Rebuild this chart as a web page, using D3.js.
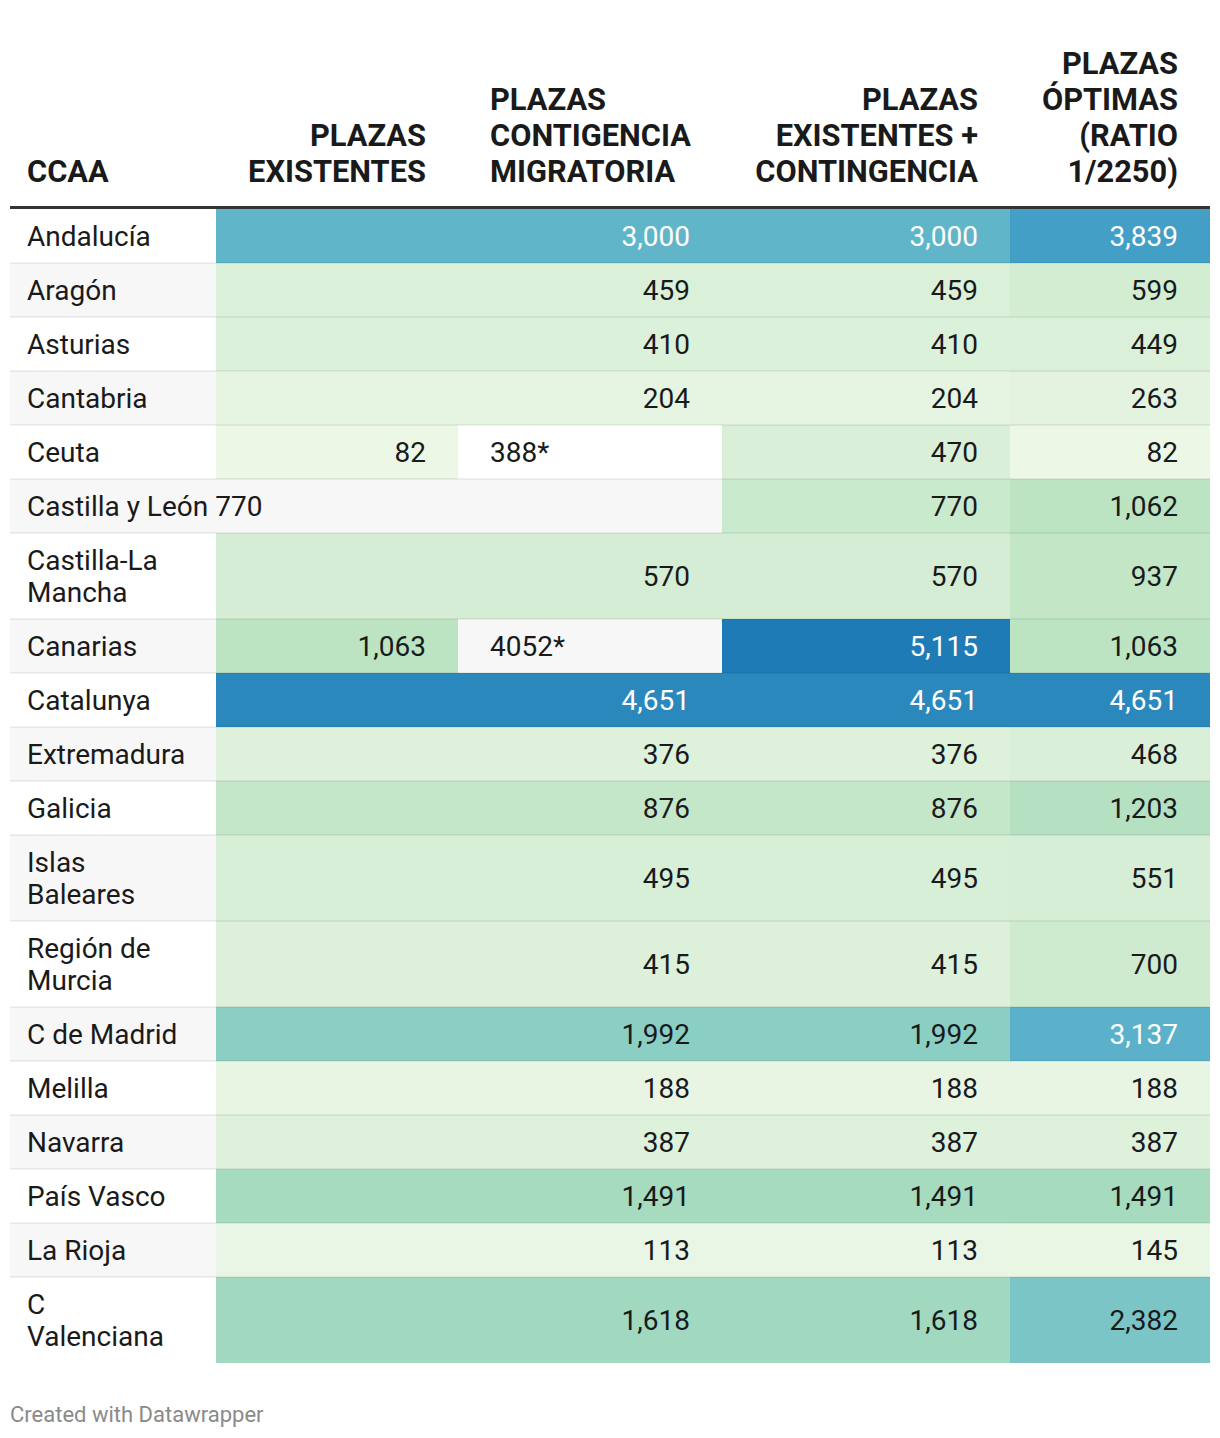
<!DOCTYPE html>
<html>
<head>
<meta charset="utf-8">
<script src="https://cdn.jsdelivr.net/npm/d3@7"></script>
<style>
  html, body { margin: 0; padding: 0; background: #ffffff; }
  svg { display: block; font-family: Roboto, "Noto Sans", sans-serif; }
</style>
</head>
<body>
<div id="chart"></div>
<script>
// ---------------- DATA ----------------
const headers = [
  ["CCAA"],
  ["PLAZAS", "EXISTENTES"],
  ["PLAZAS", "CONTIGENCIA", "MIGRATORIA"],
  ["PLAZAS", "EXISTENTES +", "CONTINGENCIA"],
  ["PLAZAS", "ÓPTIMAS", "(RATIO", "1/2250)"]
];
const ccaa = [
  "Andalucía", "Aragón", "Asturias", "Cantabria", "Ceuta", "Castilla y León",
  "Castilla-La\nMancha", "Canarias", "Catalunya", "Extremadura", "Galicia",
  "Islas\nBaleares", "Región de\nMurcia", "C de Madrid", "Melilla", "Navarra",
  "País Vasco", "La Rioja", "C\nValenciana"
];
const plazasExistentes = [3000, 459, 410, 204, 82, 770, 570, 1063, 4651, 376, 876, 495, 415, 1992, 188, 387, 1491, 113, 1618];
const plazasContingencia = ["", "", "", "", "388*", "", "", "4052*", "", "", "", "", "", "", "", "", "", "", ""];
const existentesMasContingencia = [3000, 459, 410, 204, 470, 770, 570, 5115, 4651, 376, 876, 495, 415, 1992, 188, 387, 1491, 113, 1618];
const plazasOptimas = [3839, 599, 449, 263, 82, 1062, 937, 1063, 4651, 468, 1203, 551, 700, 3137, 188, 387, 1491, 145, 2382];
// how the first cells of each row are laid out in the source table
const rowLayout = ["merged", "merged", "merged", "merged", "split", "name", "merged", "split", "merged",
  "merged", "merged", "merged", "merged", "merged", "merged", "merged", "merged", "merged", "merged"];
const footerText = "Created with Datawrapper";

// ---------------- LAYOUT / STYLE ----------------
const W = 1220, H = 1438;
const colX = d3.scaleLinear().domain([0, 1, 2, 3, 4, 5]).range([10, 216, 458, 722, 1010, 1210]);
const padFirst = 17, pad = 32;
const tableTop = 209;
const lineH = 32, rowPad = 22;
const fontSize = 28;
const headFontSize = 30.8;
const textColor = "#1a1a1a";
const stripe = "#f7f7f7";

const color = d3.scaleLinear()
  .domain([82, 1000, 1500, 2000, 3000, 4000, 5115])
  .range(["#ecf7e6", "#bfe5c4", "#a6dbbf", "#8bcfc4", "#60b5c9", "#3d9bc6", "#1f7bb6"])
  .interpolate(d3.interpolateRgb)
  .clamp(true);
const textOn = c => d3.lab(c).l < 70 ? "#ffffff" : textColor;
const fmt = d3.format(",");

// row geometry
const rows = ccaa.map((name, i) => {
  const lines = name.split("\n");
  return { i, lines, h: rowPad + lineH * lines.length };
});
let acc = tableTop;
rows.forEach(r => { r.y = acc; acc += r.h; });
const rowY = d3.scaleOrdinal().domain(rows.map(r => r.i)).range(rows.map(r => r.y));

const svg = d3.select("#chart").append("svg")
  .attr("width", W).attr("height", H).attr("viewBox", `0 0 ${W} ${H}`);

svg.append("rect").attr("width", W).attr("height", H).attr("fill", "#fff");

// ---------------- HEADER ----------------
const headLastBaseline = 182, headLineH = 36;
const headAlign = ["start", "end", "start", "end", "end"];
const head = svg.append("g").attr("class", "header");
headers.forEach((lines, c) => {
  const x = c === 0 ? colX(0) + padFirst : (headAlign[c] === "start" ? colX(c) + pad : colX(c + 1) - pad);
  const t = head.append("text")
    .attr("x", x)
    .attr("text-anchor", headAlign[c])
    .attr("font-size", headFontSize)
    .attr("font-weight", 700)
    .attr("fill", textColor);
  lines.forEach((ln, k) => {
    t.append("tspan")
      .attr("x", x)
      .attr("y", headLastBaseline - (lines.length - 1 - k) * headLineH)
      .text(ln);
  });
});
svg.append("rect").attr("x", colX(0)).attr("y", 206).attr("width", colX(5) - colX(0)).attr("height", 3).attr("fill", "#333333");

// ---------------- BODY ----------------
const body = svg.append("g").attr("class", "body");

function cellText(g, x, y, anchor, txt, fill) {
  g.append("text")
    .attr("x", x).attr("y", y)
    .attr("text-anchor", anchor)
    .attr("font-size", fontSize)
    .attr("fill", fill)
    .text(txt);
}

rows.forEach(r => {
  const i = r.i;
  const y = rowY(i), h = r.h;
  const mid = y + h / 2;
  const base = mid + 10;
  const g = body.append("g");
  const bg = i % 2 === 1 ? stripe : "#ffffff";
  const layout = rowLayout[i];

  // CCAA cell
  const nameEnd = layout === "name" ? colX(3) : colX(1);
  g.append("rect").attr("x", colX(0)).attr("y", y).attr("width", nameEnd - colX(0)).attr("height", h).attr("fill", bg);
  if (layout === "name") {
    cellText(g, colX(0) + padFirst, base, "start", r.lines.join(" ") + " " + fmt(plazasExistentes[i]), textColor);
  } else {
    const t = g.append("text").attr("font-size", fontSize).attr("fill", textColor);
    r.lines.forEach((ln, k) => {
      t.append("tspan")
        .attr("x", colX(0) + padFirst)
        .attr("y", base + (k - (r.lines.length - 1) / 2) * lineH)
        .text(ln);
    });
  }

  if (layout === "merged") {
    const c = color(plazasExistentes[i]);
    g.append("rect").attr("x", colX(1)).attr("y", y).attr("width", colX(3) - colX(1)).attr("height", h).attr("fill", c);
    cellText(g, colX(3) - pad, base, "end", fmt(plazasExistentes[i]), textOn(c));
  } else if (layout === "split") {
    const c = color(plazasExistentes[i]);
    g.append("rect").attr("x", colX(1)).attr("y", y).attr("width", colX(2) - colX(1)).attr("height", h).attr("fill", c);
    cellText(g, colX(2) - pad, base, "end", fmt(plazasExistentes[i]), textOn(c));
    g.append("rect").attr("x", colX(2)).attr("y", y).attr("width", colX(3) - colX(2)).attr("height", h).attr("fill", bg);
    cellText(g, colX(2) + pad, base, "start", plazasContingencia[i], textColor);
  }

  const c4 = color(existentesMasContingencia[i]);
  g.append("rect").attr("x", colX(3)).attr("y", y).attr("width", colX(4) - colX(3)).attr("height", h).attr("fill", c4);
  cellText(g, colX(4) - pad, base, "end", fmt(existentesMasContingencia[i]), textOn(c4));

  const c5 = color(plazasOptimas[i]);
  g.append("rect").attr("x", colX(4)).attr("y", y).attr("width", colX(5) - colX(4)).attr("height", h).attr("fill", c5);
  cellText(g, colX(5) - pad, base, "end", fmt(plazasOptimas[i]), textOn(c5));
});

// row separators
body.selectAll("rect.sep")
  .data(rows.slice(1))
  .join("rect")
  .attr("class", "sep")
  .attr("x", colX(0))
  .attr("y", d => rowY(d.i) - 1)
  .attr("width", colX(5) - colX(0))
  .attr("height", 2)
  .attr("fill", "rgba(0,0,0,0.06)");

// ---------------- FOOTER ----------------
svg.append("text")
  .attr("x", 10).attr("y", 1422)
  .attr("font-size", 22)
  .attr("fill", "#8a8a8a")
  .text(footerText);
</script>
</body>
</html>
